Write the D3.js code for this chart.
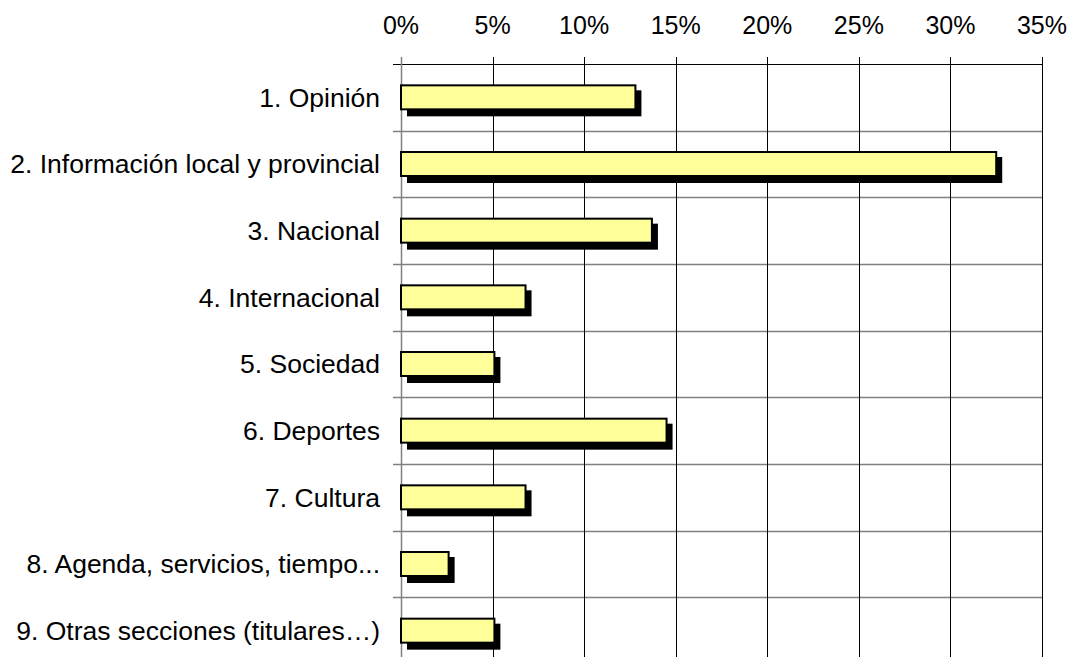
<!DOCTYPE html>
<html>
<head>
<meta charset="utf-8">
<script src="https://cdn.jsdelivr.net/npm/d3@7"></script>
<style>
  body { margin: 0; background: #fff; }
</style>
</head>
<body>
<div class="canvas"></div>
<script>
// data
var categories = ["1. Opinión", "2. Información local y provincial", "3. Nacional",
    "4. Internacional", "5. Sociedad", "6. Deportes", "7. Cultura",
    "8. Agenda, servicios, tiempo...", "9. Otras secciones (titulares…)"];
var values = [12.8, 32.5, 13.7, 6.8, 5.1, 14.5, 6.8, 2.6, 5.1];
var ticks = [0, 5, 10, 15, 20, 25, 30, 35];

var data = categories.map(function(c, i) { return {cat: c, value: values[i]}; });

var W = 1070, H = 657;
var margin = {top: 64, left: 401, right: 28, bottom: -7};

var svg = d3.select(".canvas")
    .append("svg")
    .attr("width", W)
    .attr("height", H)
    .style("display", "block")
    .style("font-family", "'Liberation Sans', Arial, sans-serif");

var x = d3.scaleLinear()
    .domain([0, 35])
    .range([margin.left, W - margin.right]);

var y = d3.scaleBand()
    .domain(categories)
    .range([margin.top, H - margin.bottom])
    .padding(0);

var bottom = H - margin.bottom;

// horizontal grid lines (band boundaries), gray
var bounds = categories.map(function(c) { return y(c); }).concat([bottom]);
svg.selectAll("hgrid")
    .data(bounds.slice(1))
    .enter()
    .append("line")
    .attr("x1", x(0) - 8)
    .attr("x2", x(35))
    .attr("y1", function(d) { return Math.round(d) + 0.5; })
    .attr("y2", function(d) { return Math.round(d) + 0.5; })
    .attr("stroke", "#808080")
    .attr("stroke-width", 1.5);

// top line
svg.append("line")
    .attr("x1", x(0) - 8)
    .attr("x2", x(35))
    .attr("y1", margin.top + 0.5)
    .attr("y2", margin.top + 0.5)
    .attr("stroke", "#000")
    .attr("stroke-width", 1.2);

// vertical grid lines
svg.selectAll("vgrid")
    .data(ticks)
    .enter()
    .append("line")
    .attr("x1", function(d) { return Math.round(x(d)) + 0.5; })
    .attr("x2", function(d) { return Math.round(x(d)) + 0.5; })
    .attr("y1", margin.top - 7)
    .attr("y2", bottom)
    .attr("stroke", function(d) { return d === 0 ? "#808080" : "#000"; })
    .attr("stroke-width", function(d) { return d === 0 ? 1.5 : 1; });

// tick labels on top
svg.selectAll("xlabel")
    .data(ticks)
    .enter()
    .append("text")
    .attr("x", function(d) { return x(d); })
    .attr("y", 34)
    .attr("text-anchor", "middle")
    .style("font-size", "25px")
    .text(function(d) { return d + "%"; });

// category labels
svg.selectAll("ylabel")
    .data(data)
    .enter()
    .append("text")
    .attr("x", x(0) - 21)
    .attr("y", function(d) { return y(d.cat) + y.bandwidth() / 2; })
    .attr("dy", "0.35em")
    .attr("text-anchor", "end")
    .style("font-size", "26.5px")
    .text(function(d) { return d.cat; });

var bh = y.bandwidth() * 0.36;
var off = 6;

// shadows
svg.selectAll("shadow")
    .data(data)
    .enter()
    .append("rect")
    .attr("x", x(0) + off)
    .attr("y", function(d) { return y(d.cat) + (y.bandwidth() - bh) / 2 + off - 1; })
    .attr("width", function(d) { return x(d.value) - x(0); })
    .attr("height", bh + 2)
    .attr("fill", "#000");

// bars
svg.selectAll("bar")
    .data(data)
    .enter()
    .append("rect")
    .attr("x", x(0))
    .attr("y", function(d) { return y(d.cat) + (y.bandwidth() - bh) / 2; })
    .attr("width", function(d) { return x(d.value) - x(0); })
    .attr("height", bh)
    .attr("fill", "#ffff99")
    .attr("stroke", "#000")
    .attr("stroke-width", 2);
</script>
</body>
</html>
